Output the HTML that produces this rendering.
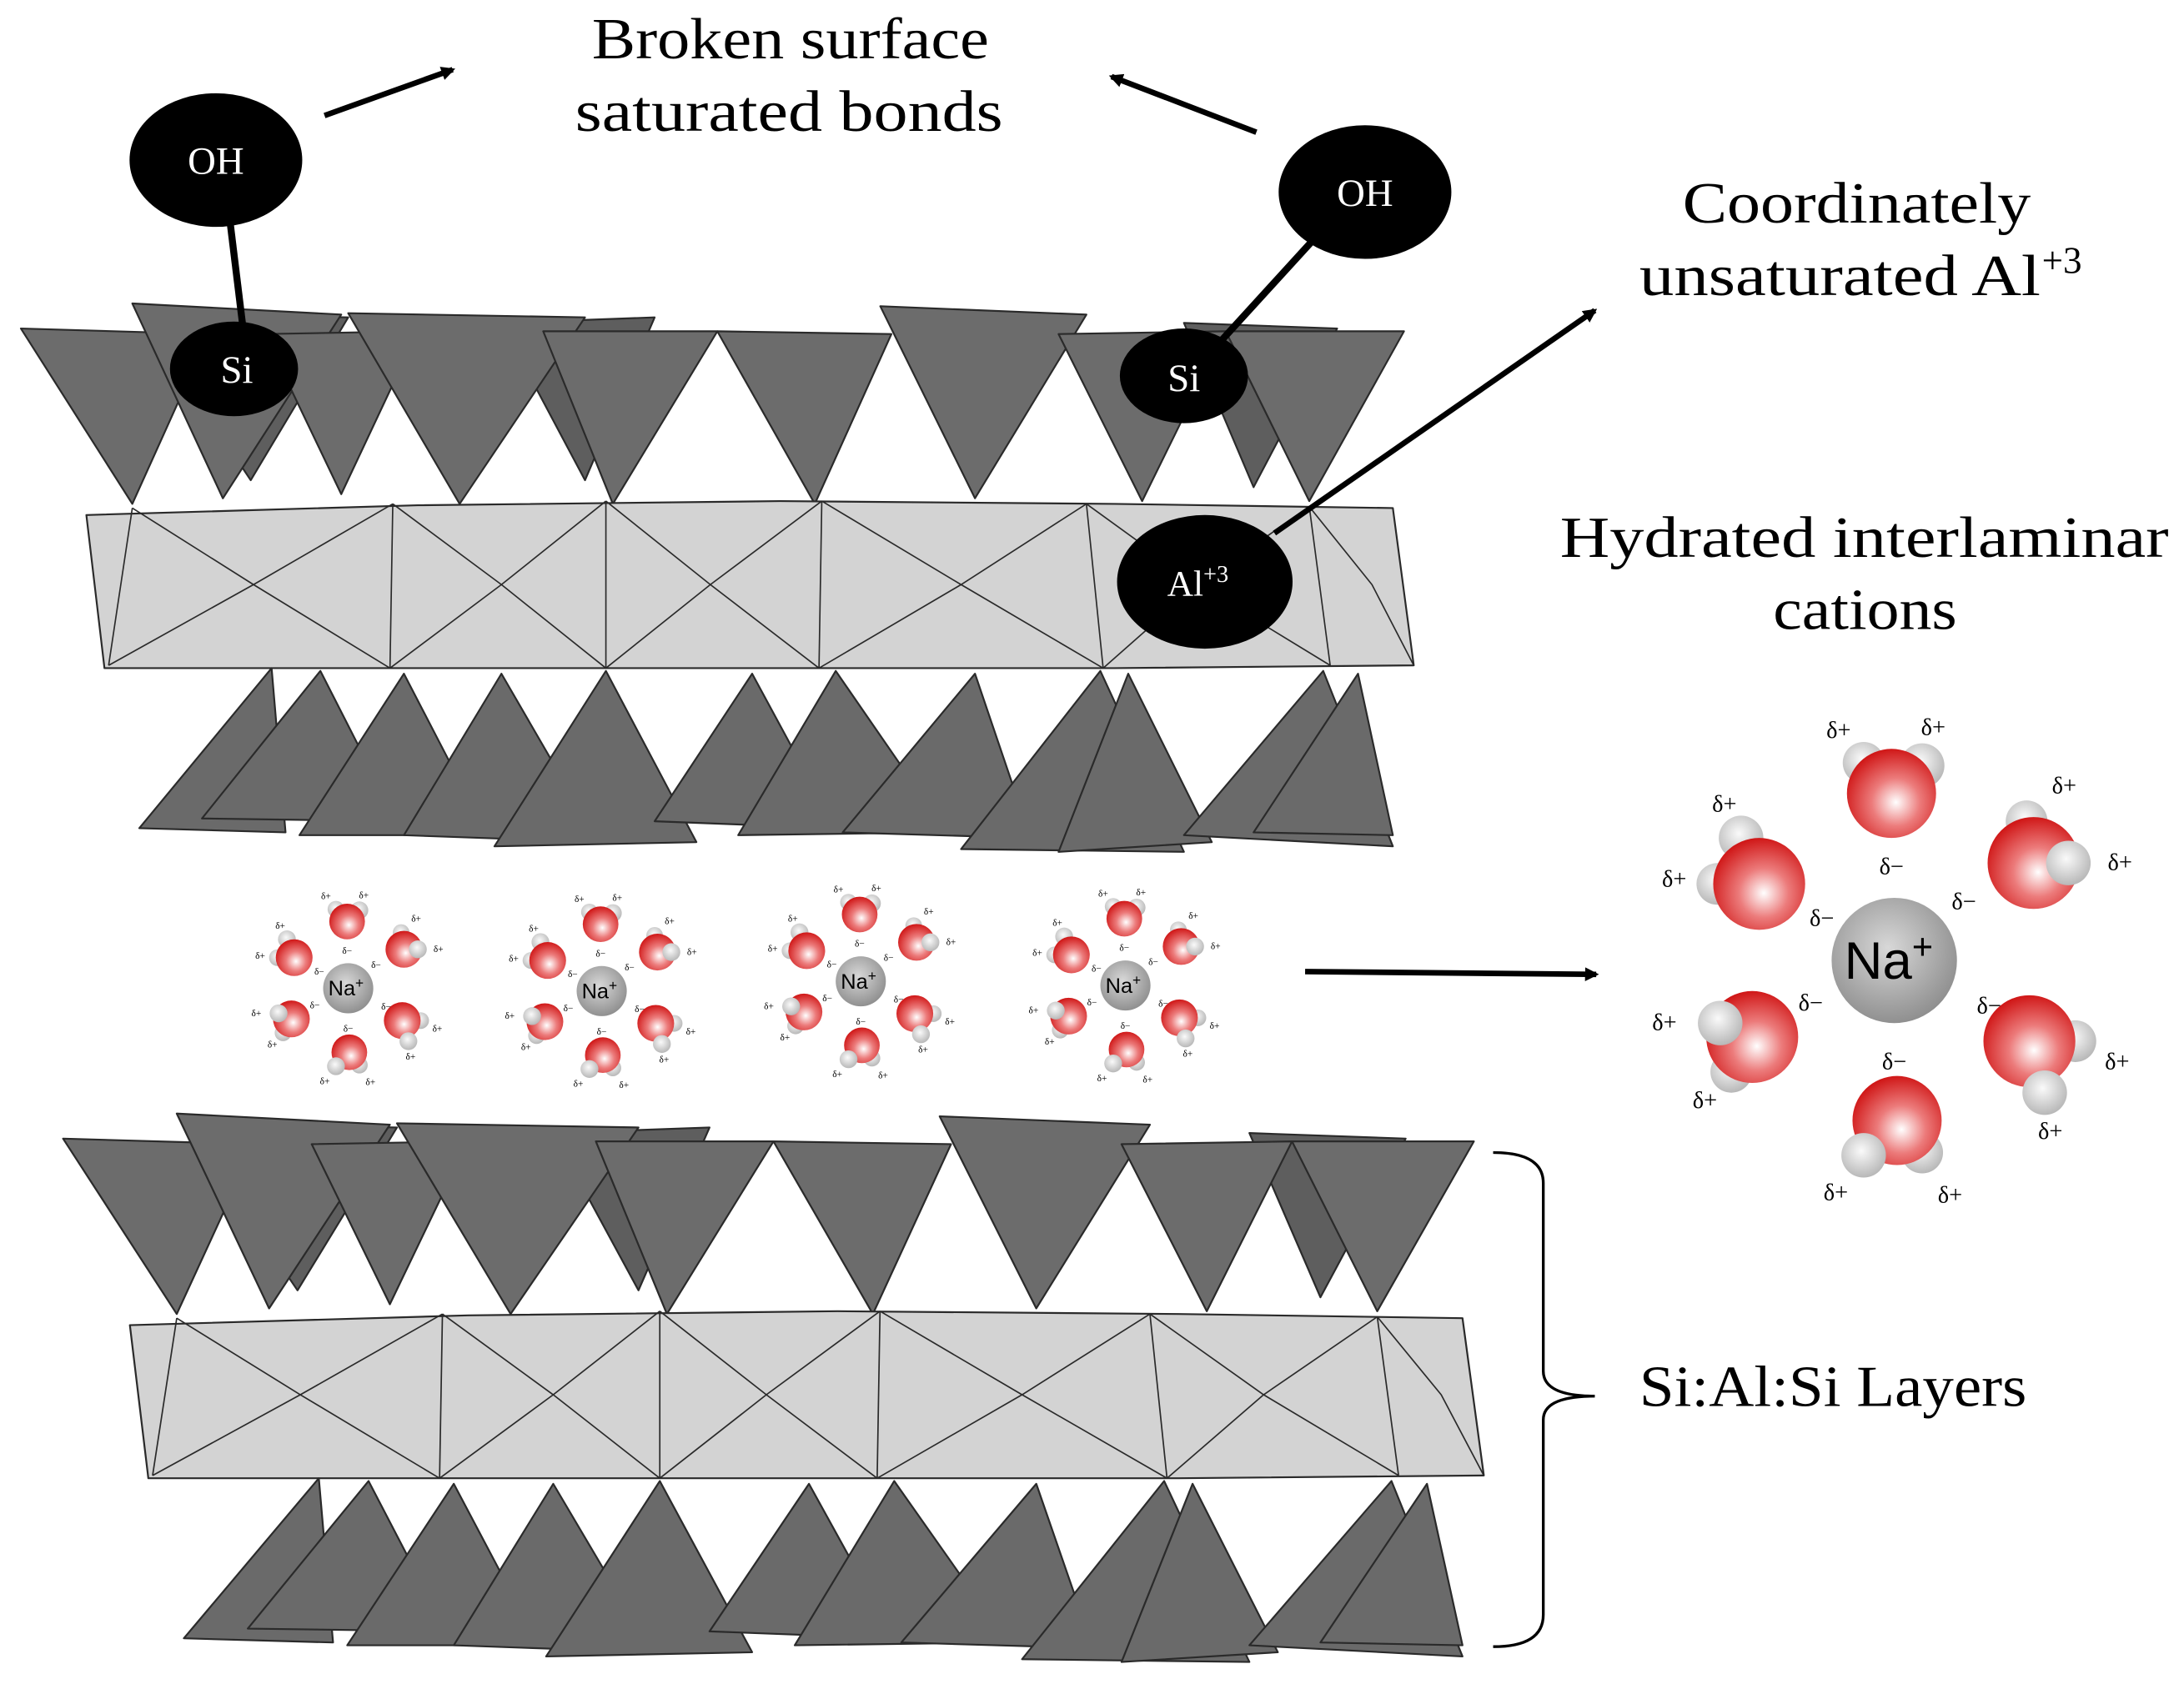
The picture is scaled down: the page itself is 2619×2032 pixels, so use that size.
<!DOCTYPE html>
<html><head><meta charset="utf-8"><style>
html,body{margin:0;padding:0;background:#fff;}
svg{display:block;}
text{font-family:"Liberation Serif",serif;}
.s{font-family:"Liberation Sans",sans-serif;}
</style></head><body>
<svg width="2619" height="2032" viewBox="0 0 1568 1217" preserveAspectRatio="none" xmlns="http://www.w3.org/2000/svg">
<defs>
<radialGradient id="rd" cx="0.55" cy="0.6" r="0.6"><stop offset="0" stop-color="#fff"/><stop offset="0.45" stop-color="#ec7b7b"/><stop offset="1" stop-color="#d01818"/></radialGradient>
<radialGradient id="wh" cx="0.45" cy="0.4" r="0.6"><stop offset="0" stop-color="#fafafa"/><stop offset="1" stop-color="#b8b8b8"/></radialGradient>
<radialGradient id="gy" cx="0.45" cy="0.4" r="0.65"><stop offset="0" stop-color="#d8d8d8"/><stop offset="1" stop-color="#8a8a8a"/></radialGradient>
<marker id="ar" markerWidth="10" markerHeight="10" refX="8" refY="5" orient="auto" markerUnits="userSpaceOnUse"><path d="M0,0 L10,5 L0,10 z" fill="#000"/></marker>
<g id="layer" stroke="#2a2a2a" stroke-width="1.3" stroke-linejoin="round">
  <g fill="#5e5e5e">
    <polygon points="100,225 250,228 180,345"/><polygon points="360,232 470,228 420,345"/><polygon points="640,230 760,228 700,345"/><polygon points="850,232 960,236 900,350"/>
  </g>
  <g fill="#6c6c6c">
    <polygon points="15,236 150,240 95,362"/><polygon points="95,218 245,226 160,358"/><polygon points="190,240 300,238 245,355"/>
    <polygon points="250,225 420,228 330,362"/><polygon points="390,238 515,238 440,362"/><polygon points="515,238 640,240 585,362"/>
    <polygon points="632,220 780,226 700,358"/><polygon points="760,240 880,238 820,360"/><polygon points="880,238 1008,238 940,360"/>
  </g>
  <polygon points="62,370 300,363 560,360 800,362 1000,365 1015,478 800,480 560,480 300,480 75,480" fill="#d3d3d3"/>
  <g fill="none" stroke-width="1">
    <path d="M95,365 L78,478 M282,362 L280,480 M435,360 L435,480 M590,360 L588,480 M780,362 L792,480 M940,364 L955,478"/>
    <path d="M95,365 L182,420 L280,480 M282,362 L182,420 L78,478 M282,362 L360,420 L435,480 M435,360 L360,420 L280,480 M435,360 L510,420 L588,480 M590,360 L510,420 L435,480 M590,360 L690,420 L792,480 M780,362 L690,420 L588,480 M780,362 L860,420 L955,478 M940,364 L860,420 L792,480 M940,364 L985,420 L1015,478"/>
  </g>
  <g fill="#6a6a6a">
    <polygon points="100,595 205,598 195,480"/><polygon points="145,588 285,590 230,482"/><polygon points="215,600 350,600 290,484"/>
    <polygon points="290,600 430,605 360,484"/><polygon points="355,608 500,605 435,482"/><polygon points="470,590 600,595 540,484"/>
    <polygon points="530,600 680,598 600,482"/><polygon points="605,598 740,602 700,484"/><polygon points="690,610 850,612 790,482"/>
    <polygon points="760,612 870,605 810,484"/><polygon points="850,600 1000,608 950,482"/><polygon points="900,598 1000,600 975,484"/>
  </g>
</g>
</defs>

<use href="#layer"/>
<use href="#layer" transform="translate(30,582) scale(1.02,1)"/>

<g stroke="#000" stroke-width="5" fill="none">
  <line x1="165" y1="158" x2="175" y2="240"/>
  <line x1="945" y1="170" x2="872" y2="250"/>
</g>
<ellipse cx="155" cy="115" rx="62" ry="48" fill="#000"/>
<ellipse cx="168" cy="265" rx="46" ry="34" fill="#000"/>
<ellipse cx="980" cy="138" rx="62" ry="48" fill="#000"/>
<ellipse cx="850" cy="270" rx="46" ry="34" fill="#000"/>
<ellipse cx="865" cy="418" rx="63" ry="48" fill="#000"/>
<g fill="#fff" font-size="28" text-anchor="middle">
<text x="155" y="125">OH</text><text x="170" y="275">Si</text>
<text x="980" y="148">OH</text><text x="850" y="281">Si</text>
<text x="860" y="428" font-size="26">Al<tspan font-size="17" dy="-10">+3</tspan></text>
</g>

<g stroke="#000" stroke-width="4" fill="none" marker-end="url(#ar)">
  <line x1="233" y1="83" x2="325" y2="50"/>
  <line x1="902" y1="95" x2="798" y2="55"/>
  <line x1="915" y1="383" x2="1145" y2="223"/>
  <line x1="937" y1="698" x2="1146" y2="700"/>
</g>

<path d="M1072,828 Q1108,828 1108,850 L1108,985 Q1108,1003 1145,1003 Q1108,1003 1108,1020 L1108,1160 Q1108,1183 1072,1183" stroke="#000" stroke-width="2" fill="none"/>

<g font-size="42" fill="#000" lengthAdjust="spacingAndGlyphs">
<text x="425" y="42" textLength="285" lengthAdjust="spacingAndGlyphs">Broken surface</text>
<text x="413" y="94" textLength="307" lengthAdjust="spacingAndGlyphs">saturated bonds</text>
<text x="1208" y="160" textLength="250" lengthAdjust="spacingAndGlyphs">Coordinately</text>
<text x="1177" y="212" textLength="288" lengthAdjust="spacingAndGlyphs">unsaturated Al</text>
<text x="1466" y="196" font-size="27">+3</text>
<text x="1120" y="400" textLength="437" lengthAdjust="spacingAndGlyphs">Hydrated interlaminar</text>
<text x="1273" y="452" textLength="132" lengthAdjust="spacingAndGlyphs">cations</text>
<text x="1177" y="1010" textLength="278" lengthAdjust="spacingAndGlyphs">Si:Al:Si Layers</text>
</g>

<g id="c0" transform="translate(1360,690)">
  <circle cx="-22" cy="-142" r="15" fill="url(#wh)"/><circle cx="20" cy="-140" r="16" fill="url(#wh)"/>
  <circle cx="-2" cy="-120" r="32" fill="url(#rd)"/>
  <circle cx="-110" cy="-88" r="16" fill="url(#wh)"/><circle cx="-127" cy="-55" r="15" fill="url(#wh)"/>
  <circle cx="-97" cy="-55" r="33" fill="url(#rd)"/>
  <circle cx="95" cy="-100" r="15" fill="url(#wh)"/>
  <circle cx="100" cy="-70" r="33" fill="url(#rd)"/><circle cx="125" cy="-70" r="16" fill="url(#wh)"/>
  <circle cx="-117" cy="80" r="15" fill="url(#wh)"/>
  <circle cx="-102" cy="55" r="33" fill="url(#rd)"/><circle cx="-125" cy="45" r="16" fill="url(#wh)"/>
  <circle cx="130" cy="58" r="15" fill="url(#wh)"/>
  <circle cx="97" cy="58" r="33" fill="url(#rd)"/><circle cx="108" cy="95" r="16" fill="url(#wh)"/>
  <circle cx="20" cy="138" r="15" fill="url(#wh)"/>
  <circle cx="2" cy="115" r="32" fill="url(#rd)"/><circle cx="-22" cy="140" r="16" fill="url(#wh)"/>
  <circle cx="0" cy="0" r="45" fill="url(#gy)"/>
  <text class="s" x="-4" y="13" font-size="38" text-anchor="middle">Na<tspan font-size="26" dy="-14">+</tspan></text>
  <g class="s" font-size="17" text-anchor="middle">
    <text x="-40" y="-160">δ+</text><text x="28" y="-162">δ+</text><text x="-2" y="-62">δ−</text>
    <text x="-122" y="-107">δ+</text><text x="-158" y="-53">δ+</text><text x="-52" y="-25">δ−</text>
    <text x="122" y="-120">δ+</text><text x="162" y="-65">δ+</text><text x="50" y="-37">δ−</text>
    <text x="-165" y="50">δ+</text><text x="-136" y="106">δ+</text><text x="-60" y="36">δ−</text>
    <text x="68" y="38">δ−</text><text x="160" y="78">δ+</text><text x="112" y="128">δ+</text>
    <text x="0" y="78">δ−</text><text x="-42" y="172">δ+</text><text x="40" y="174">δ+</text>
  </g>
</g>
<g transform="translate(250,710) scale(0.4) translate(-1360,-690)"><use href="#c0"/></g>
<g transform="translate(432,712) scale(0.4) translate(-1360,-690)"><use href="#c0"/></g>
<g transform="translate(618,705) scale(0.4) translate(-1360,-690)"><use href="#c0"/></g>
<g transform="translate(808,708) scale(0.4) translate(-1360,-690)"><use href="#c0"/></g>
</svg>
</body></html>
